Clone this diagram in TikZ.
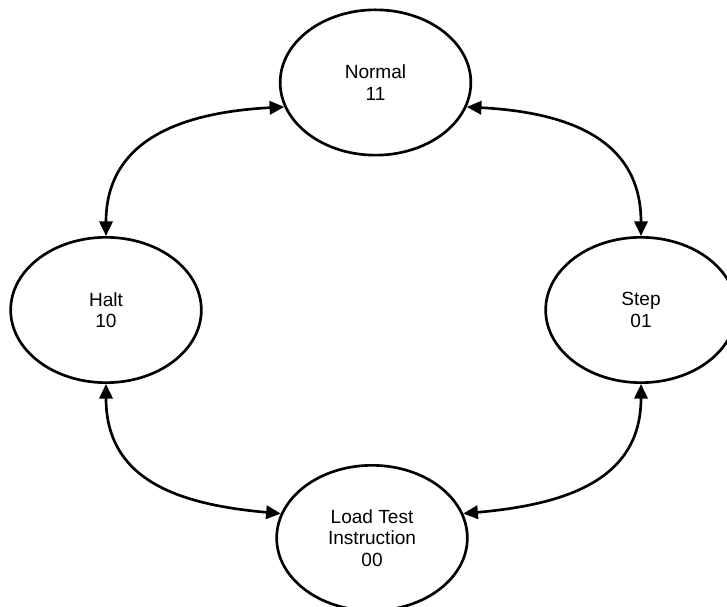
\documentclass[tikz,border=0pt]{standalone}
\usepackage{fontspec}
\setmainfont{Liberation Sans}
\usetikzlibrary{shapes.geometric,arrows.meta}
\begin{document}
\begin{tikzpicture}[x=0.75pt,y=0.75pt,
  state/.style={ellipse,draw,line width=2pt,inner sep=0pt,
    minimum width=143pt,minimum height=109pt,align=center,
    font=\fontsize{14.3}{16.1}\selectfont},
  tip/.tip={Triangle[length=11pt,width=10pt]},
  link/.style={line width=2pt,tip-tip}]
\useasboundingbox (0,0) rectangle (727,606);
\clip (0,0) rectangle (727,606);
\node[state] (normal) at (375.5,523.5) {Normal\\11};
\node[state] (halt) at (106,296) {Halt\\10};
\node[state] (step) at (641,296) {Step\\01};
\node[state] (load) at (372,68) {Load Test\\Instruction\\00};
\draw[link] (normal.195) to[out=183,in=90,out distance=78.75pt,in distance=71.25pt] (halt.north);
\draw[link] (normal.345) to[out=-3,in=90,out distance=78.75pt,in distance=71.25pt] (step.north);
\draw[link] (halt.south) to[out=-90,in=175,out distance=71.25pt,in distance=78.75pt] (load.165);
\draw[link] (step.south) to[out=-90,in=5,out distance=71.25pt,in distance=78.75pt] (load.15);
\end{tikzpicture}
\end{document}
